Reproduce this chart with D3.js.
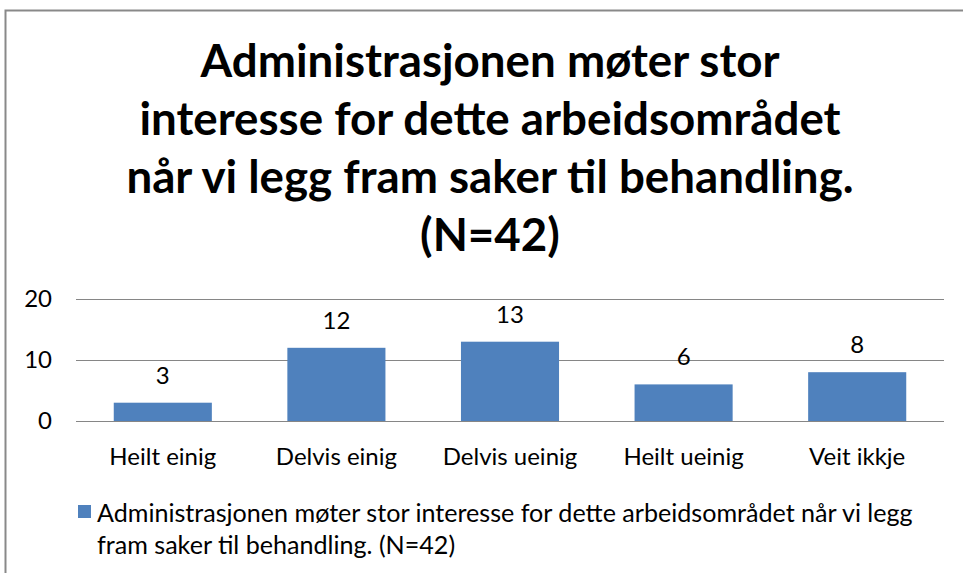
<!DOCTYPE html>
<html>
<head>
<meta charset="utf-8">
<script src="https://cdn.jsdelivr.net/npm/d3@7"></script>
<style>
  body { margin: 0; background: #fff; }
  svg { display: block; font-family: Lato, "Open Sans", sans-serif; }
</style>
</head>
<body>
<div id="chart"></div>
<script>
'use strict';

// Data
const categories = ['Heilt einig', 'Delvis einig', 'Delvis ueinig', 'Heilt ueinig', 'Veit ikkje'];
const values = [3, 12, 13, 6, 8];
const yTicks = [0, 10, 20];
const titleLines = ['Administrasjonen møter stor', 'interesse for dette arbeidsområdet', 'når vi legg fram saker til behandling.', '(N=42)'];
const legendLines = ['Administrasjonen møter stor interesse for dette arbeidsområdet når vi legg', 'fram saker til behandling. (N=42)'];

const width = 963, height = 573;
const margin = {top: 299, bottom: 152, left: 76, right: 19};

const svg = d3.select('#chart')
    .append('svg')
    .attr('width', width)
    .attr('height', height);

// Outer frame (top and left edges visible)
svg.append('path')
    .attr('d', `M5.5,${height} V10.5 H${width}`)
    .attr('fill', 'none')
    .attr('stroke', '#898989')
    .attr('stroke-width', 2);

// Title
svg.append('text')
    .attr('text-anchor', 'middle')
    .attr('font-weight', 'bold')
    .attr('font-size', 45.7)
    .attr('fill', '#000')
    .selectAll('tspan')
    .data(titleLines)
    .join('tspan')
    .attr('x', 490)
    .attr('y', (d, i) => 77 + i * 58)
    .text(d => d);

const chartW = width - margin.left - margin.right;
const chartH = height - margin.top - margin.bottom;

const chart = svg.append('g')
    .attr('transform', `translate(${margin.left},${margin.top})`);

const x = d3.scaleBand()
    .domain(categories)
    .range([0, chartW])
    .paddingInner(0.435)
    .paddingOuter(0.2175);

const y = d3.scaleLinear()
    .domain([0, 20])
    .range([chartH, 0]);

// Gridlines
chart.selectAll('line.grid')
    .data(yTicks)
    .join('line')
    .classed('grid', true)
    .attr('x1', 0)
    .attr('x2', chartW)
    .attr('y1', d => Math.round(y(d)) + 0.5)
    .attr('y2', d => Math.round(y(d)) + 0.5)
    .attr('stroke', '#868686')
    .attr('stroke-width', 1);

// Y tick labels
chart.selectAll('text.ytick')
    .data(yTicks)
    .join('text')
    .classed('ytick', true)
    .attr('x', -24)
    .attr('y', d => y(d))
    .attr('dy', '0.35em')
    .attr('text-anchor', 'end')
    .attr('font-size', 24)
    .attr('fill', '#000')
    .text(d => d);

// Bars
chart.selectAll('rect.bar')
    .data(values)
    .join('rect')
    .classed('bar', true)
    .attr('x', (d, i) => x(categories[i]))
    .attr('y', d => y(d))
    .attr('width', x.bandwidth())
    .attr('height', d => chartH - y(d))
    .attr('fill', '#4F81BD');

// Data labels
chart.selectAll('text.label')
    .data(values)
    .join('text')
    .classed('label', true)
    .attr('x', (d, i) => x(categories[i]) + x.bandwidth() / 2)
    .attr('y', d => y(d) - 19)
    .attr('text-anchor', 'middle')
    .attr('font-size', 24)
    .attr('fill', '#000')
    .text(d => d);

// X axis labels
chart.selectAll('text.xtick')
    .data(categories)
    .join('text')
    .classed('xtick', true)
    .attr('x', d => x(d) + x.bandwidth() / 2)
    .attr('y', chartH + 44)
    .attr('text-anchor', 'middle')
    .attr('font-size', 24)
    .attr('fill', '#000')
    .text(d => d);

// Legend
svg.append('rect')
    .attr('x', 78)
    .attr('y', 505)
    .attr('width', 13)
    .attr('height', 13)
    .attr('fill', '#4F81BD');

svg.append('text')
    .attr('font-size', 25.1)
    .attr('fill', '#000')
    .selectAll('tspan')
    .data(legendLines)
    .join('tspan')
    .attr('x', 97)
    .attr('y', (d, i) => 522 + i * 32)
    .text(d => d);
</script>
</body>
</html>
